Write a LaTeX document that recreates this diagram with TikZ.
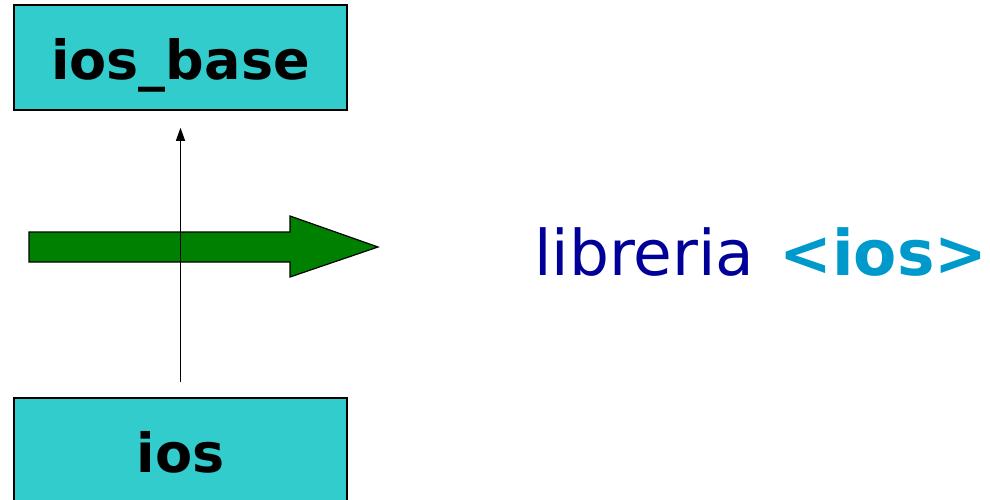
\documentclass[tikz,border=0pt]{standalone}
\usepackage{fontspec}
\setmainfont{DejaVu Sans}
\usetikzlibrary{arrows.meta}
\definecolor{boxcyan}{HTML}{33CCCC}
\definecolor{arrowgreen}{HTML}{008000}
\definecolor{libblue}{HTML}{000099}
\definecolor{hdrblue}{HTML}{0099CC}
\begin{document}
\begin{tikzpicture}[x=1pt,y=-1pt,
  classbox/.style={draw=black, line width=1.5pt, fill=boxcyan, minimum width=333pt,
    minimum height=105pt, inner sep=0pt, text height=44pt, text depth=0pt,
    font=\fontsize{54}{60}\selectfont\bfseries},
  inherit/.style={line width=1pt, -{Triangle[length=13pt,width=9pt]}},
  bigarrow/.style={draw=black, line width=1.2pt, fill=arrowgreen, line join=miter}]
\useasboundingbox (0,0) rectangle (990,500);
% classes
\node[classbox] (base) at (180.5,57.5) {ios\_base};
\node[classbox] (ios) at (180.5,450.5) {ios};
% green arrow
\coordinate (a1) at (29,232);
\coordinate (a2) at (290,232);
\coordinate (a3) at (290,216);
\coordinate (tip) at (378,247);
\coordinate (a5) at (290,277);
\coordinate (a6) at (290,262);
\coordinate (a7) at (29,262);
\draw[bigarrow] (a1) -- (a2) -- (a3) -- (tip) -- (a5) -- (a6) -- (a7) -- cycle;
% inheritance connector
\draw[inherit, shorten <=15pt, shorten >=17pt] (ios.north) -- (base.south);
% library label
\node[anchor=base west, inner sep=0pt, font=\fontsize{63}{70}\selectfont] (lib) at (534,275)
  {\textcolor{libblue}{libreria}\hspace{25pt}\textcolor{hdrblue}{\bfseries<ios>}};
\end{tikzpicture}
\end{document}
